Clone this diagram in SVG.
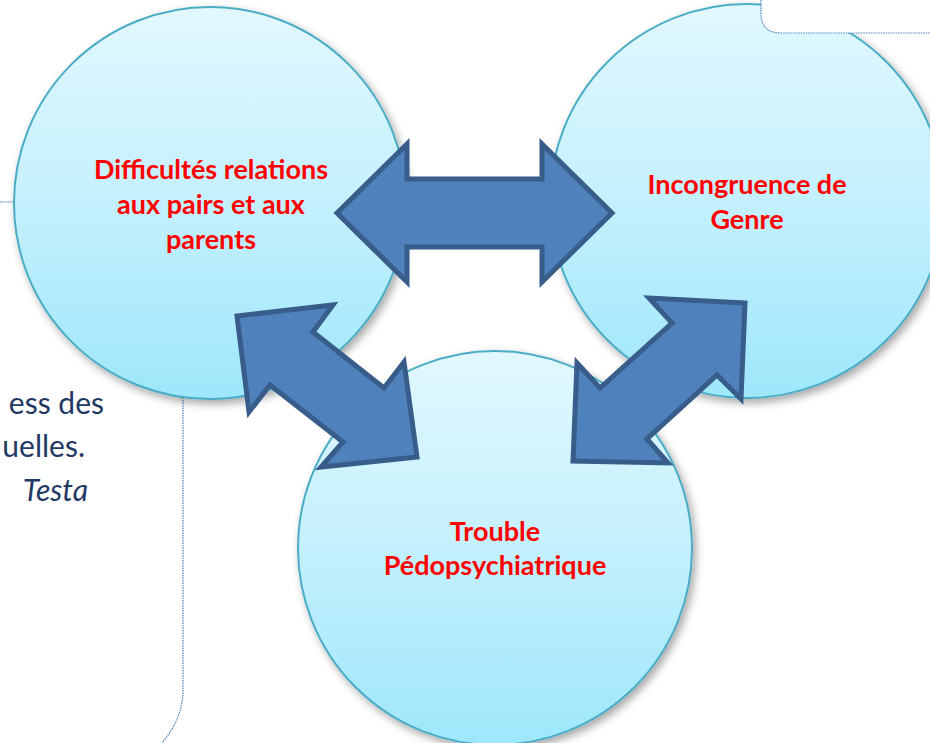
<svg xmlns="http://www.w3.org/2000/svg" width="930" height="743" viewBox="0 0 930 743">
  <defs>
    <linearGradient id="bubble" x1="0" y1="0" x2="0" y2="1">
      <stop offset="0" stop-color="#e2f8fe"/>
      <stop offset="0.5" stop-color="#c4f0fd"/>
      <stop offset="1" stop-color="#9ee7fb"/>
    </linearGradient>
    <filter id="shadow" x="-20%" y="-20%" width="140%" height="140%">
      <feDropShadow dx="3" dy="4" stdDeviation="4" flood-color="#000" flood-opacity="0.35"/>
    </filter>
  </defs>
  <style>
    .bubble { fill: url(#bubble); stroke: #4bacc6; stroke-width: 2; filter: url(#shadow); }
    .label { font-family: Lato, "Open Sans", "Liberation Sans", sans-serif; font-weight: bold; font-size: 27px; fill: #ff0000; text-anchor: middle; }
    .arrow { fill: #4f81bd; stroke: #385d8a; stroke-width: 5; stroke-linejoin: miter; }
    .dots { fill: none; stroke: #4f81bd; stroke-width: 1.2; stroke-dasharray: 1.5 1; }
    .bg { font-family: Lato, "Open Sans", "Liberation Sans", sans-serif; font-size: 30px; fill: #1f3864; text-anchor: end; }
  </style>
  <rect width="930" height="743" fill="#ffffff"/>

  <g id="background">
    <path class="dots" d="M0,202 L20,202"/>
    <path class="dots" d="M183,395 L183,690 Q183,718 162,743"/>
    <text class="bg" x="104" y="414">ess des</text>
    <text class="bg" x="85" y="457">uelles.</text>
    <text class="bg" x="88" y="501" font-style="italic">Testa</text>
  </g>

  <g id="node-relations">
    <circle class="bubble" cx="210" cy="203" r="196"/>
    <text class="label" x="211" y="179">Difficultés relations</text>
    <text class="label" x="211" y="214">aux pairs et aux</text>
    <text class="label" x="211" y="249">parents</text>
  </g>

  <g id="node-genre">
    <circle class="bubble" cx="747" cy="201" r="197"/>
    <text class="label" x="747" y="194">Incongruence de</text>
    <text class="label" x="747" y="229">Genre</text>
  </g>

  <g id="node-trouble">
    <circle class="bubble" cx="495" cy="548" r="197"/>
    <text class="label" x="495" y="541">Trouble</text>
    <text class="label" x="495" y="575">Pédopsychiatrique</text>
  </g>

  <g id="overlay-box">
    <path d="M761,0 L761,13 Q761,33 781,33 L930,33 L930,0 Z" fill="#ffffff"/>
    <path class="dots" d="M761,0 L761,13 Q761,33 781,33 L930,33"/>
  </g>

  <g id="connectors">
    <polygon class="arrow" points="337,213 407,144 407,179 542,179 542,144 612,213 542,282 542,247 407,247 407,282"/>
    <polygon class="arrow" points="237,316 333,305 313,332 384,388 404,362 417,457 321,467 343,442 270,385 249,412"/>
    <polygon class="arrow" points="745,303 649,298 672,323 600,388 577,363 573,461 668,463 647,439 717,375 741,399"/>
  </g>
</svg>
